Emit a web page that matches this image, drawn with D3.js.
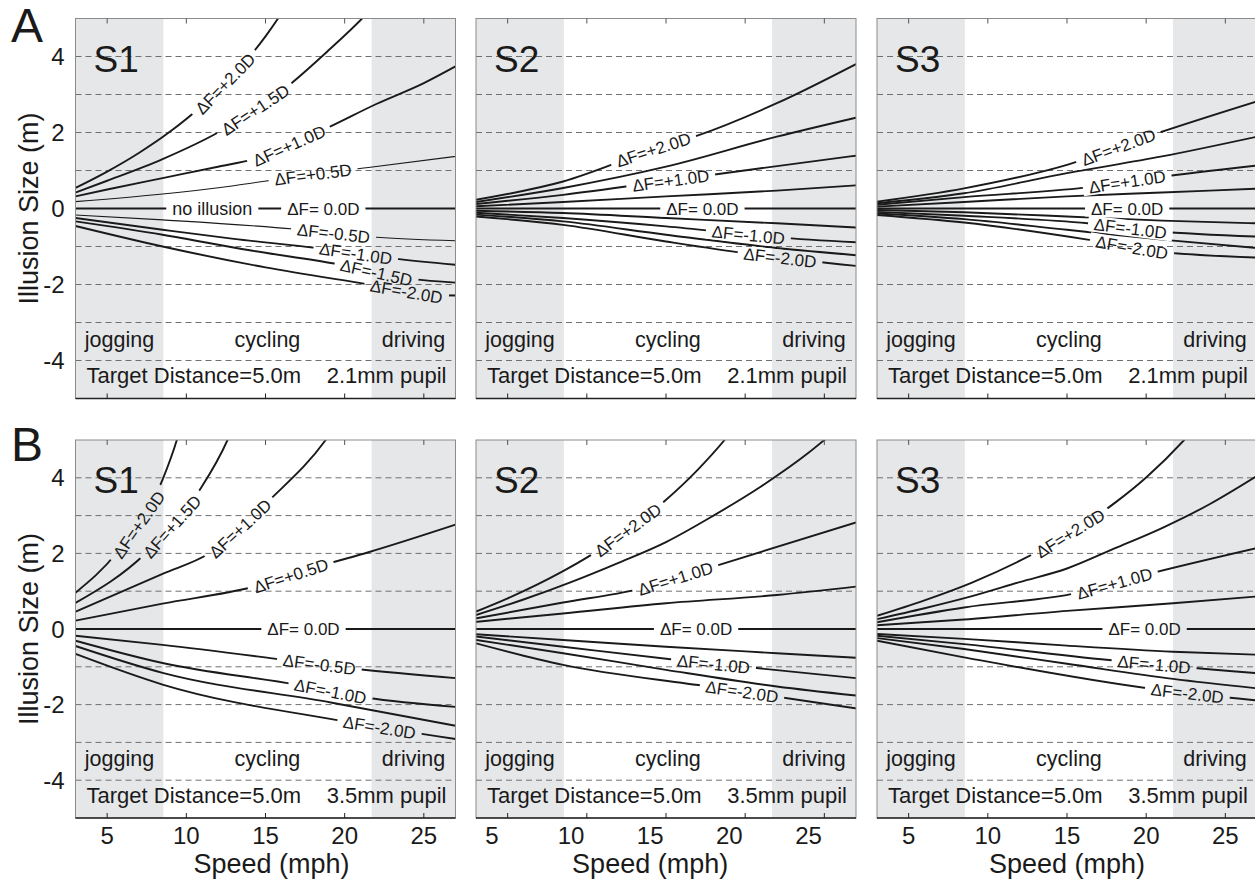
<!DOCTYPE html>
<html>
<head>
<meta charset="utf-8">
<script src="https://cdn.jsdelivr.net/npm/d3@7"></script>
<style>
  body { margin: 0; background: #fff; }
  svg { display: block; font-family: "Liberation Sans", Arial, Helvetica, sans-serif; }
</style>
</head>
<body>
<div id="vis"></div>
<script>
const width = 1255;
const height = 884;

// ---- data ----
const rowLetters = ["A", "B"];
const subjects = ["S1", "S2", "S3"];
const pupils = ["2.1mm pupil", "3.5mm pupil"];
const targetText = "Target Distance=5.0m";
const speedDomain = [3, 27];
const sizeDomain = [-5, 5];
const speedTicks = [5, 10, 15, 20, 25];
const sizeTicks = [-4, -2, 0, 2, 4];
const gridLevels = [-4, -3, -2, -1, 1, 2, 3, 4];
const zones = [["jogging", 3, 8.55], ["cycling", 8.55, 21.7], ["driving", 21.7, 27]];
const shadedZones = ["jogging", "driving"];

// curves: [ΔF, [[speed mph, illusion size m], ...]]
const A_S1 = [
  ["+2.0", [[3, 0.54], [5, 0.97], [7, 1.46], [9, 2.03], [11, 2.71], [13, 3.53], [15, 4.53], [16, 5.13], [17, 5.79]]],
  ["+1.5", [[3, 0.42], [5, 0.73], [8.5, 1.3], [12, 2.0], [16.35, 3.2], [19, 4.17], [21.1, 5.0], [22, 5.4]]],
  ["+1.0", [[3, 0.32], [5, 0.5], [8.5, 0.8], [12, 1.1], [14.25, 1.3], [18.8, 2.1], [22, 2.75], [25, 3.3], [27, 3.74]]],
  ["+0.5", [[3, 0.18], [8.5, 0.38], [13, 0.6], [16.6, 0.82], [21.5, 1.08], [27, 1.37]]],
  ["0.0", [[3, 0], [27, 0]]],
  ["-0.5", [[3, -0.17], [8.5, -0.3], [16.8, -0.54], [21.8, -0.75], [27, -0.85]]],
  ["-1.0", [[3, -0.25], [8.5, -0.56], [13, -0.8], [18.25, -1.04], [23.1, -1.32], [27, -1.48]]],
  ["-1.5", [[3, -0.34], [8.5, -0.69], [14, -1.1], [19.5, -1.46], [24.3, -1.86], [27, -1.95]]],
  ["-2.0", [[3, -0.46], [8.5, -1.0], [15, -1.55], [21.4, -1.99], [25.5, -2.27], [27, -2.29]]]
];
const A_S2 = [
  ["+2.0", [[3, 0.23], [8.5, 0.71], [14.2, 1.55], [16.8, 1.89], [22, 2.77], [27, 3.8]]],
  ["+1.5", [[3, 0.17], [8.5, 0.54], [15, 1.1], [22, 1.89], [27, 2.39]]],
  ["+1.0", [[3, 0.12], [8.5, 0.36], [15, 0.72], [21, 1.06], [27, 1.39]]],
  ["+0.5", [[3, 0.06], [8.5, 0.17], [15, 0.32], [22, 0.47], [27, 0.61]]],
  ["0.0", [[3, 0], [27, 0]]],
  ["-0.5", [[3, -0.06], [8.5, -0.12], [15, -0.25], [22, -0.39], [27, -0.5]]],
  ["-1.0", [[3, -0.11], [8.5, -0.25], [15, -0.47], [22, -0.76], [27, -0.89]]],
  ["-1.5", [[3, -0.16], [8.5, -0.34], [15, -0.69], [22, -1.04], [27, -1.23]]],
  ["-2.0", [[3, -0.21], [8.5, -0.43], [15, -0.87], [20, -1.18], [27, -1.51]]]
];
const A_S3 = [
  ["+2.0", [[3, 0.18], [8.5, 0.53], [15, 1.15], [20.7, 1.98], [27, 2.82]]],
  ["+1.5", [[3, 0.14], [8.5, 0.4], [15, 0.93], [21, 1.37], [27, 1.89]]],
  ["+1.0", [[3, 0.1], [8.5, 0.3], [16.1, 0.55], [20.7, 0.82], [27, 1.13]]],
  ["+0.5", [[3, 0.05], [8.5, 0.17], [15, 0.32], [21, 0.42], [27, 0.52]]],
  ["0.0", [[3, 0], [27, 0]]],
  ["-0.5", [[3, -0.04], [8.5, -0.1], [15, -0.21], [21, -0.32], [27, -0.39]]],
  ["-1.0", [[3, -0.09], [8.5, -0.19], [16.3, -0.39], [20.7, -0.6], [27, -0.74]]],
  ["-1.5", [[3, -0.13], [8.5, -0.28], [15, -0.56], [21, -0.82], [27, -1.04]]],
  ["-2.0", [[3, -0.17], [8.5, -0.37], [16.3, -0.82], [20.8, -1.13], [27, -1.29]]]
];
const B_S1 = [
  ["+2.0", [[3, 0.96], [5.55, 1.99], [8.5, 3.95], [9.4, 5.0], [9.8, 5.6]]],
  ["+1.5", [[3, 0.69], [7.4, 1.99], [10.8, 3.65], [12.6, 5.0], [13, 5.4]]],
  ["+1.0", [[3, 0.46], [8.5, 1.46], [11.4, 1.99], [15.3, 3.43], [18.8, 5.0], [19.3, 5.3]]],
  ["+0.5", [[3, 0.22], [8.5, 0.67], [14.2, 1.11], [18.9, 1.72], [21.5, 2.03], [27, 2.76]]],
  ["0.0", [[3, 0], [27, 0]]],
  ["-0.5", [[3, -0.18], [8.5, -0.42], [16.1, -0.81], [20.8, -1.06], [27, -1.3]]],
  ["-1.0", [[3, -0.31], [8.5, -0.9], [16.9, -1.47], [21.4, -1.82], [27, -2.06]]],
  ["-1.5", [[3, -0.45], [8.5, -1.16], [19.2, -1.95], [27, -2.56]]],
  ["-2.0", [[3, -0.66], [8.5, -1.47], [19.8, -2.43], [27, -2.91]]]
];
const B_S2 = [
  ["+2.0", [[3, 0.46], [5, 0.81], [8.5, 1.53], [10.2, 1.94], [12.6, 2.62], [14.9, 3.38], [17, 4.21], [18.7, 5.0], [19.5, 5.42]]],
  ["+1.5", [[3, 0.37], [6, 0.78], [9, 1.24], [12, 1.75], [15, 2.3], [18, 3.0], [21, 3.77], [24, 4.66], [25, 5.0], [26, 5.35]]],
  ["+1.0", [[3, 0.28], [8.5, 0.7], [13.2, 1.05], [18, 1.65], [27, 2.82]]],
  ["+0.5", [[3, 0.19], [8.5, 0.41], [15, 0.68], [22, 0.9], [27, 1.12]]],
  ["0.0", [[3, 0], [27, 0]]],
  ["-0.5", [[3, -0.14], [8.5, -0.29], [15, -0.47], [22, -0.64], [27, -0.76]]],
  ["-1.0", [[3, -0.2], [8.5, -0.47], [15.7, -0.82], [27, -1.3]]],
  ["-1.5", [[3, -0.29], [8.5, -0.64], [15, -1.08], [22, -1.52], [27, -1.76]]],
  ["-2.0", [[3, -0.38], [8.5, -0.95], [17.6, -1.52], [27, -2.1]]]
];
const B_S3 = [
  ["+2.0", [[3, 0.35], [6, 0.76], [9, 1.23], [12, 1.8], [15, 2.48], [18, 3.33], [20, 4.01], [22.4, 5.0], [23, 5.28]]],
  ["+1.5", [[3, 0.26], [6, 0.55], [9, 0.87], [12, 1.24], [15, 1.6], [18, 2.13], [21, 2.67], [24, 3.3], [27, 4.05]]],
  ["+1.0", [[3, 0.18], [8.5, 0.57], [15.6, 0.95], [20.3, 1.47], [27, 2.14]]],
  ["+0.5", [[3, 0.1], [8.5, 0.25], [15, 0.48], [21.7, 0.68], [27, 0.86]]],
  ["0.0", [[3, 0], [27, 0]]],
  ["-0.5", [[3, -0.13], [8.5, -0.26], [15, -0.44], [21.7, -0.6], [27, -0.68]]],
  ["-1.0", [[3, -0.18], [8.5, -0.4], [18.1, -0.84], [27, -1.17]]],
  ["-1.5", [[3, -0.24], [8.5, -0.53], [15, -0.92], [21.7, -1.32], [27, -1.57]]],
  ["-2.0", [[3, -0.31], [8.5, -0.75], [20.3, -1.58], [27, -1.89]]]
];

// inline curve labels: [ΔF of curve, text, speed at label centre]
const A_S1_labels = [
  ["+2.0", "ΔF=+2.0D", 12.45], ["+1.5", "ΔF=+1.5D", 14.36], ["+1.0", "ΔF=+1.0D", 16.5],
  ["+0.5", "ΔF=+0.5D", 18.0], ["0.0", "no illusion", 11.64], ["0.0", "ΔF= 0.0D", 18.65],
  ["-0.5", "ΔF=-0.5D", 19.3], ["-1.0", "ΔF=-1.0D", 20.7], ["-1.5", "ΔF=-1.5D", 22.0],
  ["-2.0", "ΔF=-2.0D", 23.9]
];
const A_S2_labels = [
  ["+2.0", "ΔF=+2.0D", 14.2], ["+1.0", "ΔF=+1.0D", 15.3], ["0.0", "ΔF= 0.0D", 17.3],
  ["-1.0", "ΔF=-1.0D", 20.2], ["-2.0", "ΔF=-2.0D", 22.2]
];
const A_S3_labels = [
  ["+2.0", "ΔF=+2.0D", 18.25], ["+1.0", "ΔF=+1.0D", 18.8], ["0.0", "ΔF= 0.0D", 18.8],
  ["-1.0", "ΔF=-1.0D", 19.0], ["-2.0", "ΔF=-2.0D", 19.1]
];
const B_S1_labels = [
  ["+2.0", "ΔF=+2.0D", 7.0], ["+1.5", "ΔF=+1.5D", 9.1], ["+1.0", "ΔF=+1.0D", 13.4],
  ["+0.5", "ΔF=+0.5D", 16.6], ["0.0", "ΔF= 0.0D", 17.4], ["-0.5", "ΔF=-0.5D", 18.4],
  ["-1.0", "ΔF=-1.0D", 19.1], ["-2.0", "ΔF=-2.0D", 22.2]
];
const B_S2_labels = [
  ["+2.0", "ΔF=+2.0D", 12.6], ["+1.0", "ΔF=+1.0D", 15.6], ["0.0", "ΔF= 0.0D", 16.9],
  ["-1.0", "ΔF=-1.0D", 18.0], ["-2.0", "ΔF=-2.0D", 19.8]
];
const B_S3_labels = [
  ["+2.0", "ΔF=+2.0D", 15.2], ["+1.0", "ΔF=+1.0D", 18.0], ["0.0", "ΔF= 0.0D", 19.9],
  ["-1.0", "ΔF=-1.0D", 20.5], ["-2.0", "ΔF=-2.0D", 22.6]
];

// ---- layout ----
const colLeft = [75.5, 476, 877];
const panelW = 380;
const rowTop = [18.5, 440];
const panelH = [380, 378];
const tickLabelShift = [0, 1, 0]; // the middle column's tick numbers sit one mph to the left
const shadeColor = "#e6e7e9";
const ink = "#1a1a1a";

const panels = [
  { row: 0, col: 0, curves: A_S1, labels: A_S1_labels, thin: ["+0.5", "-0.5"] },
  { row: 0, col: 1, curves: A_S2, labels: A_S2_labels, thin: [] },
  { row: 0, col: 2, curves: A_S3, labels: A_S3_labels, thin: [] },
  { row: 1, col: 0, curves: B_S1, labels: B_S1_labels, thin: [] },
  { row: 1, col: 1, curves: B_S2, labels: B_S2_labels, thin: [] },
  { row: 1, col: 2, curves: B_S3, labels: B_S3_labels, thin: [] }
];

const svg = d3.select("#vis").append("svg")
  .attr("width", width)
  .attr("height", height);
const defs = svg.append("defs");

panels.forEach(drawPanel);

// row letters
svg.selectAll("text.rowletter").data(rowLetters).join("text")
  .attr("class", "rowletter")
  .attr("x", 11)
  .attr("y", (d, i) => rowTop[i] + [23.5, 21][i])
  .attr("font-size", 48)
  .attr("fill", ink)
  .text(d => d);

function pointAtX(node, px) {
  let lo = 0, hi = node.getTotalLength();
  for (let i = 0; i < 40; i++) {
    const mid = (lo + hi) / 2;
    if (node.getPointAtLength(mid).x < px) lo = mid; else hi = mid;
  }
  return node.getPointAtLength((lo + hi) / 2);
}

function drawPanel(p) {
  const left = colLeft[p.col];
  const top = rowTop[p.row];
  const h = panelH[p.row];
  const bottom = top + h;
  const id = rowLetters[p.row] + p.col;

  const x = d3.scaleLinear().domain(speedDomain).range([left, left + panelW]);
  const y = d3.scaleLinear().domain(sizeDomain).range([bottom, top]);
  const shift = tickLabelShift[p.col];
  const xLabel = d3.scaleLinear().domain([speedDomain[0] + shift, speedDomain[1] + shift]).range([left, left + panelW]);

  const g = svg.append("g");

  // shaded activity zones
  g.selectAll("rect.zone").data(zones.filter(z => shadedZones.includes(z[0]))).join("rect")
    .attr("x", d => x(d[1]))
    .attr("width", d => x(d[2]) - x(d[1]))
    .attr("y", top)
    .attr("height", h)
    .attr("fill", shadeColor);

  // dashed grid
  g.selectAll("line.grid").data(gridLevels).join("line")
    .attr("x1", left).attr("x2", left + panelW)
    .attr("y1", d => y(d)).attr("y2", d => y(d))
    .attr("stroke", "#707070")
    .attr("stroke-width", 1)
    .attr("stroke-dasharray", "6,4");

  // zone names
  g.selectAll("text.zonename").data(zones).join("text")
    .attr("x", d => x((d[1] + d[2]) / 2))
    .attr("y", bottom - 52)
    .attr("text-anchor", "middle")
    .attr("font-size", 21.5)
    .attr("fill", ink)
    .text(d => d[0]);

  g.append("text")
    .attr("x", left + 11)
    .attr("y", bottom - 15.5)
    .attr("font-size", 22)
    .attr("fill", ink)
    .text(targetText);
  g.append("text")
    .attr("x", left + panelW - 9)
    .attr("y", bottom - 15.5)
    .attr("text-anchor", "end")
    .attr("font-size", 22)
    .attr("fill", ink)
    .text(pupils[p.row]);

  // subject
  g.append("text")
    .attr("x", left + 18)
    .attr("y", top + 53)
    .attr("font-size", 37)
    .attr("fill", ink)
    .text(subjects[p.col]);

  // curves, clipped to the panel and masked where labels sit
  defs.append("clipPath").attr("id", "clip" + id)
    .append("rect").attr("x", left).attr("y", top).attr("width", panelW).attr("height", h);
  const mask = defs.append("mask").attr("id", "mask" + id)
    .attr("maskUnits", "userSpaceOnUse")
    .attr("x", 0).attr("y", 0).attr("width", width).attr("height", height);
  mask.append("rect").attr("x", 0).attr("y", 0).attr("width", width).attr("height", height).attr("fill", "#fff");

  const line = d3.line()
    .x(d => x(d[0]))
    .y(d => y(d[1]))
    .curve(d3.curveMonotoneX);

  const cg = g.append("g")
    .attr("clip-path", "url(#clip" + id + ")")
    .append("g")
    .attr("mask", "url(#mask" + id + ")");

  const paths = cg.selectAll("path").data(p.curves).join("path")
    .attr("d", d => line(d[1]))
    .attr("fill", "none")
    .attr("stroke", ink)
    .attr("stroke-width", d => p.thin.includes(d[0]) ? 1.1 : (d[0] === "0.0" ? 2.2 : 1.9));

  const pathByDf = {};
  paths.each(function (d) { pathByDf[d[0]] = this; });

  // inline labels following the curve
  p.labels.forEach(([df, text, speed]) => {
    const node = pathByDf[df];
    const cx = x(speed);
    const c = pointAtX(node, cx);
    const a = pointAtX(node, cx - 4);
    const b = pointAtX(node, cx + 4);
    const angle = Math.atan2(b.y - a.y, b.x - a.x) * 180 / Math.PI;
    const t = g.append("text")
      .attr("transform", `translate(${c.x},${c.y}) rotate(${angle})`)
      .attr("text-anchor", "middle")
      .attr("dy", "0.36em")
      .attr("font-size", text === "no illusion" ? 18 : 17)
      .attr("fill", ink)
      .text(text);
    const w = t.node().getComputedTextLength();
    mask.append("rect")
      .attr("x", -w / 2 - 6).attr("y", -8)
      .attr("width", w + 12).attr("height", 16)
      .attr("transform", `translate(${c.x},${c.y}) rotate(${angle})`)
      .attr("fill", "#000");
  });

  // frame
  g.append("rect")
    .attr("x", left).attr("y", top)
    .attr("width", panelW).attr("height", h)
    .attr("fill", "none")
    .attr("stroke", "#8c8c8c")
    .attr("stroke-width", 1);
  g.append("line")
    .attr("x1", left).attr("x2", left + panelW)
    .attr("y1", bottom).attr("y2", bottom)
    .attr("stroke", "#222")
    .attr("stroke-width", 1.4);

  // inward ticks, bottom and top
  g.selectAll("line.tb").data(speedTicks).join("line")
    .attr("x1", d => x(d)).attr("x2", d => x(d))
    .attr("y1", bottom).attr("y2", bottom - 5)
    .attr("stroke", "#222");
  g.selectAll("line.tt").data(speedTicks).join("line")
    .attr("x1", d => x(d)).attr("x2", d => x(d))
    .attr("y1", top).attr("y2", top + 5)
    .attr("stroke", "#555");

  // y axis numbers and title, first column only
  if (p.col === 0) {
    g.selectAll("text.ytick").data(sizeTicks).join("text")
      .attr("x", left - 11)
      .attr("y", d => y(d))
      .attr("dy", "0.36em")
      .attr("text-anchor", "end")
      .attr("font-size", 24)
      .attr("fill", ink)
      .text(d => d);
    g.append("text")
      .attr("transform", `translate(38,${y(0)}) rotate(-90)`)
      .attr("text-anchor", "middle")
      .attr("font-size", 27)
      .attr("fill", ink)
      .text("Illusion Size (m)");
  }

  // x axis numbers and title, bottom row only
  if (p.row === 1) {
    g.selectAll("text.xtick").data(speedTicks).join("text")
      .attr("x", d => xLabel(d))
      .attr("y", bottom + 26)
      .attr("text-anchor", "middle")
      .attr("font-size", 24)
      .attr("fill", ink)
      .text(d => d);
    g.append("text")
      .attr("x", xLabel(15) + (p.col === 0 ? 6 : 0))
      .attr("y", bottom + 55)
      .attr("text-anchor", "middle")
      .attr("font-size", 27)
      .attr("fill", ink)
      .text("Speed (mph)");
  }
}
</script>
</body>
</html>
